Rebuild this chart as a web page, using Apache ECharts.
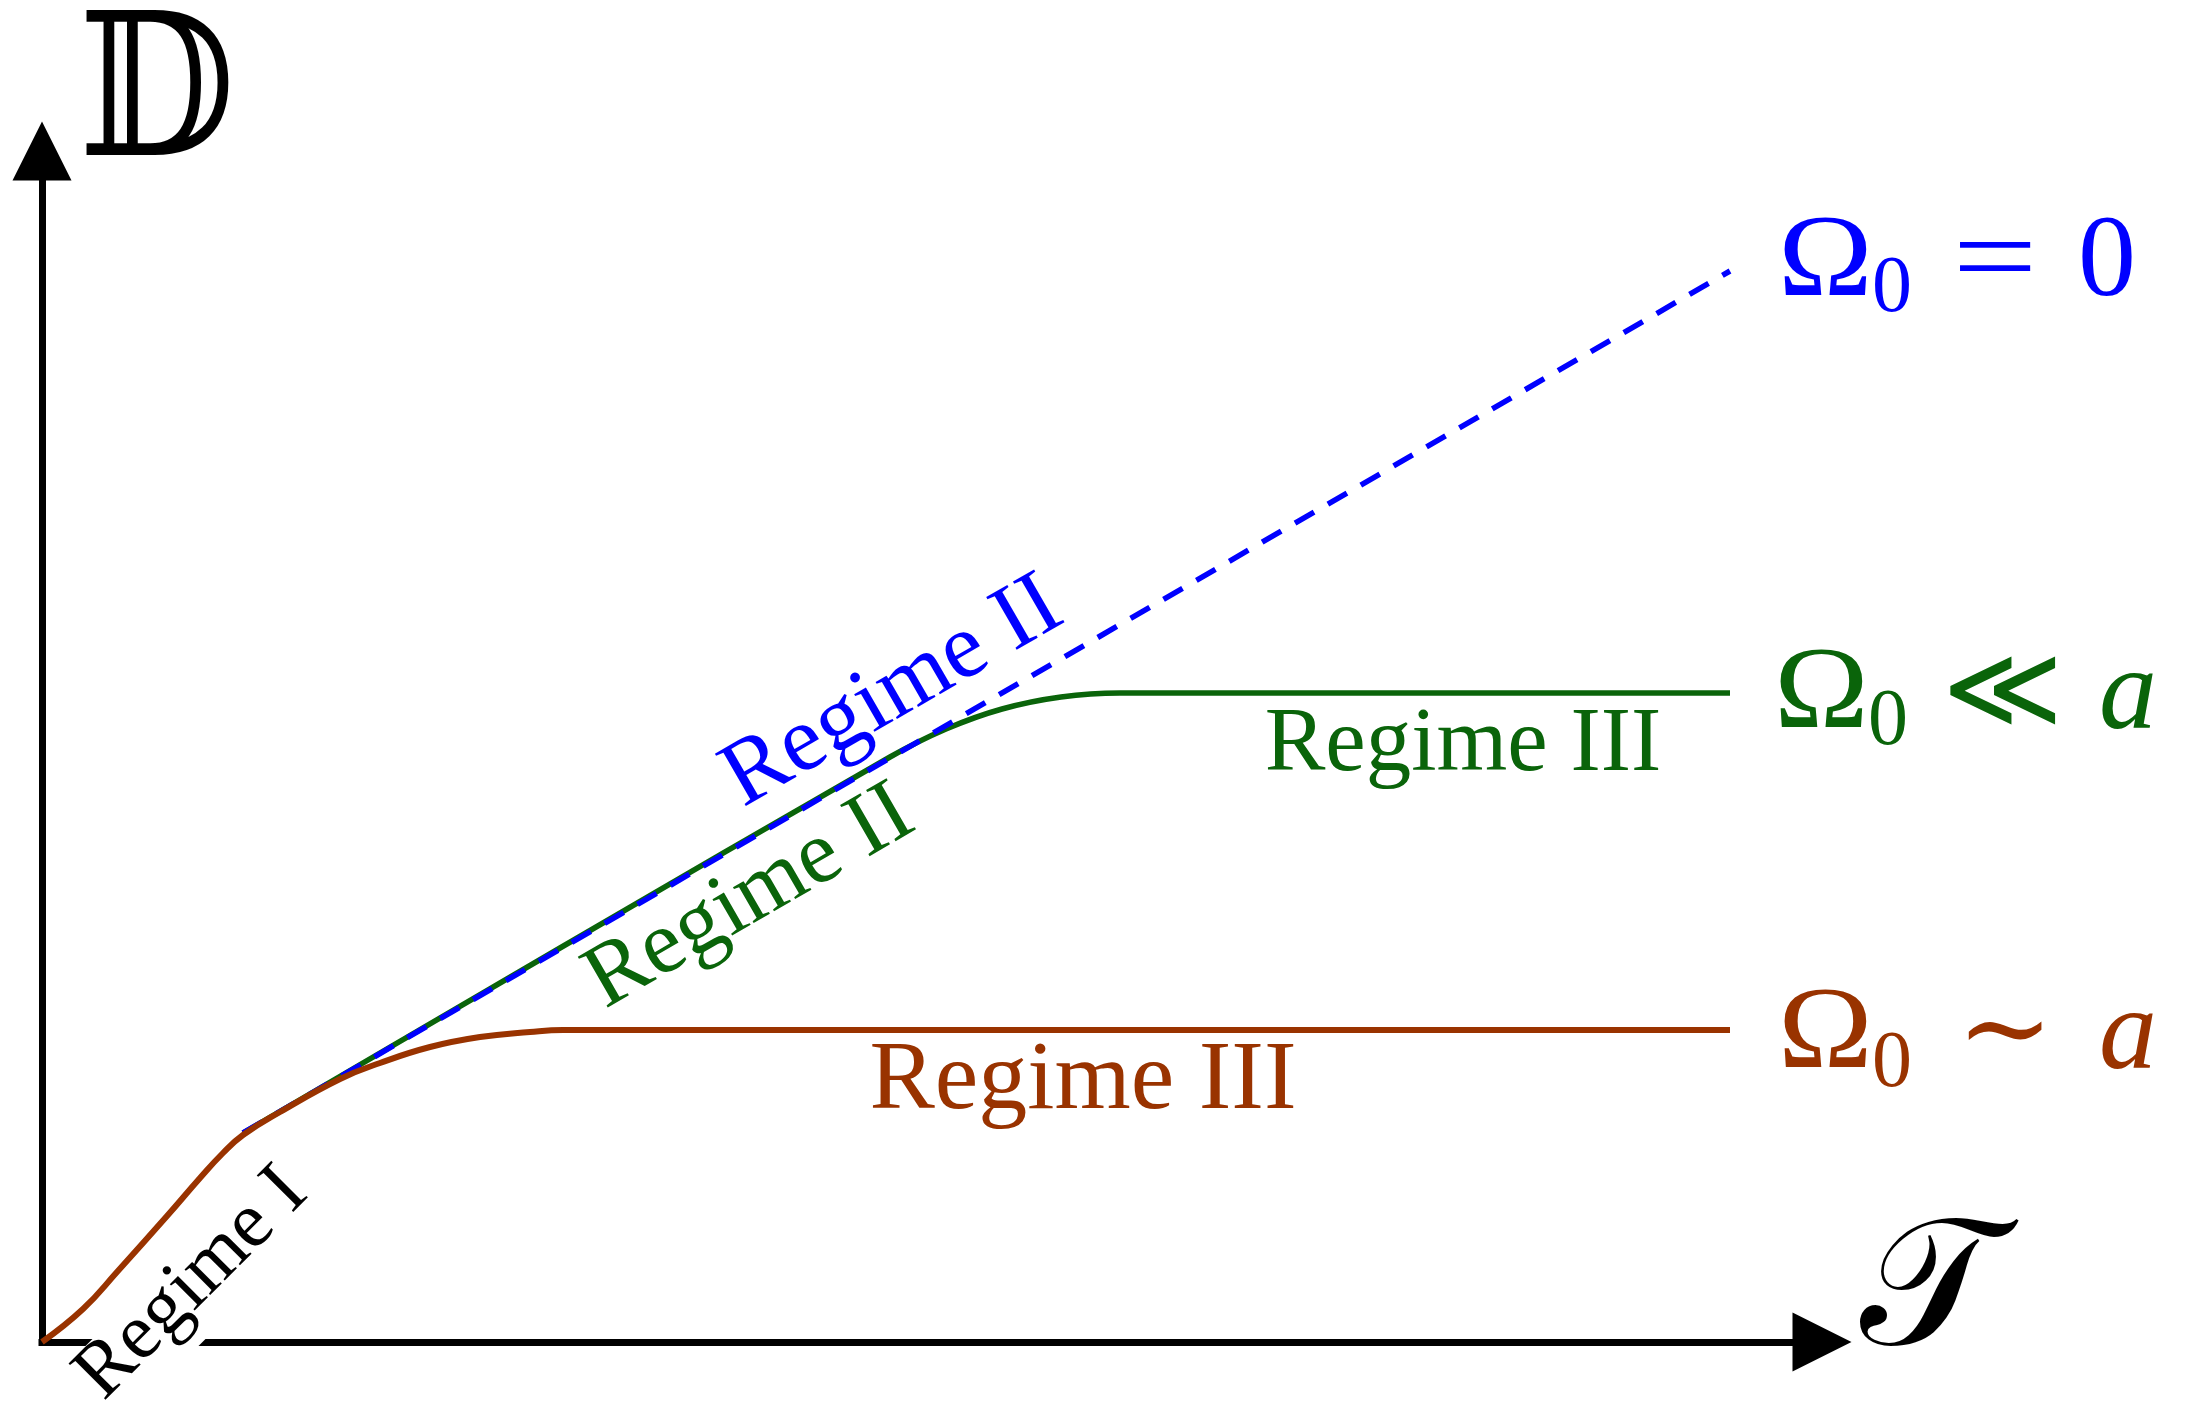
<!DOCTYPE html>
<html>
<head>
<meta charset="utf-8">
<title>Regimes</title>
<script src="https://cdn.jsdelivr.net/npm/echarts@6.0.0/dist/echarts.min.js"></script>
<style>
  html, body { margin: 0; padding: 0; background: #fff; }
  #chart { width: 2187px; height: 1428px; }
</style>
</head>
<body>
<div id="chart"></div>
<script>
// curves: T along x, D along y (arbitrary units)
const brownT = [0, 0.41, 0.75, 1.25, 1.58, 1.81, 2.01, 2.38, 2.98, 3.38, 3.88, 4.38, 4.88, 5.21, 9.0, 16.88];
const brownD = [0, 0.33, 0.70, 1.26, 1.64, 1.89, 2.07, 2.30, 2.63, 2.79, 2.95, 3.05, 3.10, 3.12, 3.12, 3.12];
const greenT = [2.01, 5.18, 8.48, 9.04, 9.60, 10.19, 10.78, 13.5, 16.88];
const greenD = [2.09, 3.94, 5.85, 6.13, 6.33, 6.45, 6.49, 6.49, 6.49];
const blueT = [2.01, 16.88];
const blueD = [2.09, 10.71];

const T_MAX = 17.8;
const D_MAX = 11.91;

const BLUE = '#0000ff';
const GREEN = '#0a640a';
const BROWN = '#993300';
const serif = '"Liberation Serif", "DejaVu Serif", serif';

const zip = (xs, ys) => xs.map((x, i) => [x, ys[i]]);

// plain text helper for the annotations
function txt(x, y, text, size, color, extra) {
  const el = {
    type: 'text', x: x, y: y, z: 10,
    style: {
      text: text, fill: color,
      font: size + 'px ' + serif,
      align: 'left', verticalAlign: 'middle'
    }
  };
  if (extra) {
    Object.assign(el.style, extra.style || {});
    ['rotation', 'z', 'scaleX'].forEach(k => {
      if (extra[k] !== undefined) el[k] = extra[k];
    });
  }
  return el;
}

const chart = echarts.init(document.getElementById('chart'));

const axisCommon = {
  type: 'value',
  axisTick: { show: false },
  axisLabel: { show: false },
  splitLine: { show: false },
  axisLine: {
    show: true,
    onZero: false,
    symbol: ['none', 'triangle'],
    symbolSize: [59, 59],
    lineStyle: { color: '#000', width: 7, cap: 'square' }
  }
};

const option = {
  backgroundColor: '#fff',
  animation: false,
  grid: { left: 42, right: 365, top: 151, bottom: 86, containLabel: false, outerBoundsMode: 'none' },
  xAxis: Object.assign({ min: 0, max: T_MAX }, axisCommon),
  yAxis: Object.assign({ min: 0, max: D_MAX }, axisCommon),
  series: [
    {
      type: 'line', data: zip(greenT, greenD), showSymbol: false, smooth: 0.3,
      lineStyle: { color: GREEN, width: 5.5 }, z: 3
    },
    {
      type: 'line', data: zip(blueT, blueD), showSymbol: false,
      lineStyle: { color: BLUE, width: 5.5, type: [22, 16] }, z: 4
    },
    {
      type: 'line', data: zip(brownT, brownD), showSymbol: false, smooth: 0.45,
      lineStyle: { color: BROWN, width: 6 }, z: 5
    }
  ],
  graphic: [
    // axis names
    txt(78, 103, '\u{1D53B}', 198, '#000', { scaleX: 0.92 }),
    txt(1860, 1297, '\u{1D4AF}', 180, '#000'),

    // white box behind "Regime I" that cuts the T axis
    {
      type: 'rect', x: 146, y: 1342, rotation: Math.PI / 4, z: 1,
      shape: { x: -60, y: -40, width: 120, height: 80 },
      style: { fill: '#fff' }
    },

    // regime labels
    txt(192, 1284, 'Regime I', 79, '#000',
      { rotation: Math.PI / 4, style: { align: 'center' } }),
    txt(893, 693, 'Regime II', 93, BLUE,
      { rotation: Math.PI / 6, style: { align: 'center' } }),
    txt(750, 898, 'Regime II', 90, GREEN,
      { rotation: Math.PI / 6, style: { align: 'center' } }),
    txt(1463, 746, 'Regime III', 91, GREEN, { style: { align: 'center' } }),
    txt(1083, 1082, 'Regime III', 98, BROWN, { style: { align: 'center' } }),

    // curve names on the right
    txt(1778, 265, '\u03A9', 116, BLUE, { scaleX: 1.1 }),
    txt(1872, 290, '0', 80, BLUE),
    txt(1995, 265, '=', 116, BLUE, { scaleX: 1.3, style: { align: 'center' } }),
    txt(2078, 265, '0', 116, BLUE),

    txt(1774, 697, '\u03A9', 116, GREEN, { scaleX: 1.1 }),
    txt(1868, 723, '0', 80, GREEN),
    txt(2002, 697, '\u226A', 116, GREEN,
      { style: { align: 'center', stroke: '#fff', lineWidth: 8 } }),
    txt(2099, 697, 'a', 116, GREEN, { style: { font: 'italic 116px ' + serif } }),

    txt(1778, 1037, '\u03A9', 116, BROWN, { scaleX: 1.1 }),
    txt(1872, 1065, '0', 80, BROWN),
    txt(2005, 1037, '\u223C', 116, BROWN,
      { style: { align: 'center', stroke: '#fff', lineWidth: 3 } }),
    txt(2099, 1037, 'a', 116, BROWN, { style: { font: 'italic 116px ' + serif } })
  ]
};

chart.setOption(option);
</script>
</body>
</html>
